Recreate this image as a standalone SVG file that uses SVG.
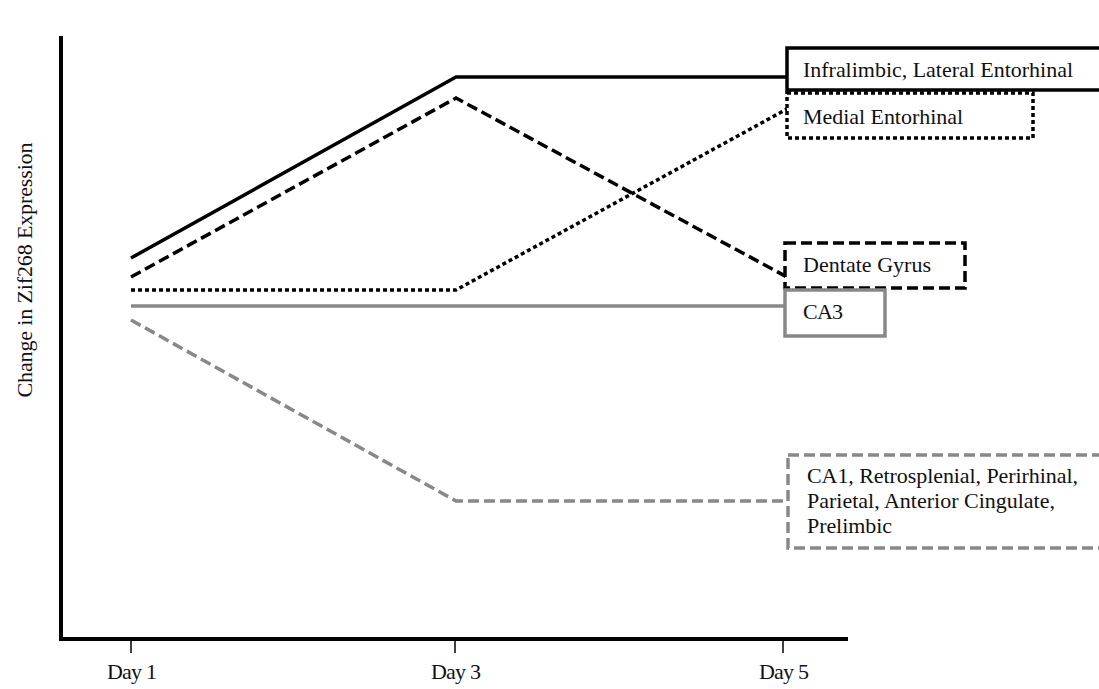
<svg xmlns="http://www.w3.org/2000/svg" width="1099" height="689" viewBox="0 0 1099 689">
<style>
text{font-family:"Liberation Serif","Times New Roman",serif;font-size:22px;fill:#111}
.ln{fill:none;stroke-width:3.5;stroke-linejoin:miter}
.blk{stroke:#000}
.gry{stroke:#888}
.dash{stroke-dasharray:11 5}
.dot{stroke-dasharray:4 3}
.box{fill:#fff;stroke-width:3.5}
</style>
<rect width="1099" height="689" fill="#fff"/>
<g id="axes" fill="none" stroke="#000">
<polyline points="61,36 61,639 848,639" stroke-width="4"/>
<line x1="131" y1="639" x2="131" y2="653" stroke-width="1.5"/>
<line x1="455" y1="639" x2="455" y2="653" stroke-width="1.5"/>
<line x1="783" y1="639" x2="783" y2="653" stroke-width="1.5"/>
</g>
<g id="axis-labels">
<text x="132" y="679" text-anchor="middle" textLength="50">Day 1</text>
<text x="456" y="679" text-anchor="middle" textLength="50">Day 3</text>
<text x="784" y="679" text-anchor="middle" textLength="50">Day 5</text>
<text transform="translate(32,270) rotate(-90)" text-anchor="middle" textLength="255">Change in Zif268 Expression</text>
</g>
<g id="connectors">
<polyline class="ln blk" points="131,258 456,77 787,77"/>
<polyline class="ln blk dash" points="131,277 456,98 787,277"/>
<polyline class="ln blk dot" points="131,290 456,290 787,109"/>
<polyline class="ln gry" points="131,306 787,306"/>
<polyline class="ln gry dash" points="131,320 456,501 787,501"/>
</g>
<g id="node-infralimbic">
<rect class="box" x="787" y="48" width="330" height="42" stroke="#000"/>
<text x="803" y="77" textLength="270">Infralimbic, Lateral Entorhinal</text>
</g>
<g id="node-medial-entorhinal">
<rect class="box dot" x="787" y="93" width="246" height="45" stroke="#000"/>
<text x="803" y="124" textLength="160">Medial Entorhinal</text>
</g>
<g id="node-dentate-gyrus">
<rect class="box dash" x="785" y="243" width="180" height="45" stroke="#000"/>
<text x="803" y="272" textLength="128">Dentate Gyrus</text>
</g>
<g id="node-ca3">
<rect class="box" x="785" y="290" width="100" height="46" stroke="#888"/>
<text x="803" y="319" textLength="40">CA3</text>
</g>
<g id="node-ca1">
<rect class="box dash" x="788" y="455" width="330" height="93" stroke="#888"/>
<text x="807" y="483" textLength="271">CA1, Retrosplenial, Perirhinal,</text>
<text x="807" y="508" textLength="248">Parietal, Anterior Cingulate,</text>
<text x="807" y="533" textLength="85">Prelimbic</text>
</g>
</svg>
